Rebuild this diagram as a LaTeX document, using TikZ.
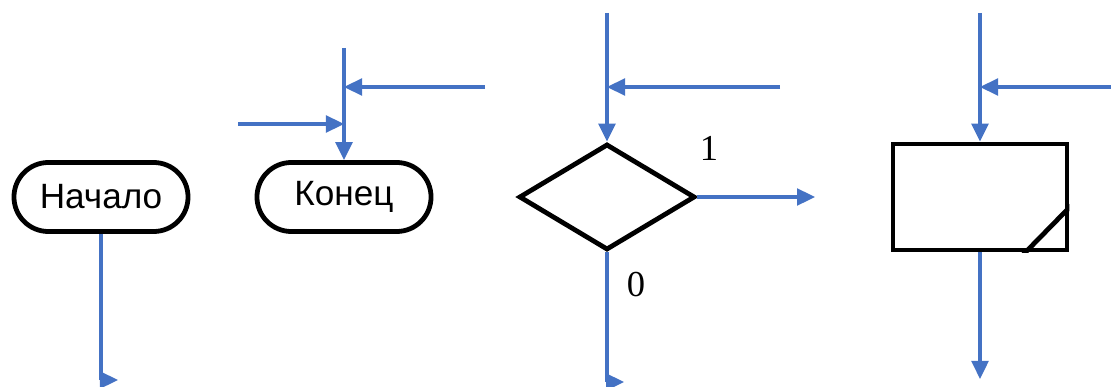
\documentclass[tikz,border=0pt]{standalone}
\usepackage{fontspec}
\setmainfont{Liberation Serif}
\newfontfamily\termfont{Liberation Sans}
\usetikzlibrary{arrows.meta,positioning,shapes.geometric,calc}
\definecolor{flowblue}{RGB}{68,114,196}

\begin{document}
\begin{tikzpicture}[x=0.025cm,y=-0.025cm,
  term/.style={rectangle,rounded corners=0.86cm,draw,line width=3.4pt,
    minimum width=4.35cm,minimum height=1.725cm,inner sep=0pt,font=\termfont\fontsize{25}{30}\selectfont},
  cond/.style={diamond,draw,line width=3.4pt,minimum width=4.4cm,minimum height=2.65cm,inner sep=0pt},
  blk/.style={rectangle,draw,line width=3.4pt,minimum width=4.35cm,minimum height=2.65cm,inner sep=0pt},
  flow/.style={flowblue,line width=2.2pt,-{Triangle[length=0.45cm,width=0.42cm]}},
  branchlbl/.style={font=\fontsize{26}{30}\selectfont}]
  \useasboundingbox (0,0) rectangle (1111,387);
  \clip (0,0) rectangle (1111,387);
  % terminals
  \node[term] (start) at (101,197) {Начало};
  \node[term] (stop) at (344,197) {Конец};
  % decision and process block
  \node[cond] (dec) at (607,197) {};
  \node[blk] (proc) at (980,197) {};
  \begin{scope}
    \clip (proc.south west) rectangle (proc.north east);
    \draw[line width=3.4pt] ($(proc.south east)+(2,-47)$) -- ($(proc.south east)+(-46,2)$);
  \end{scope}
  % free ends of connectors
  \coordinate (startout) at (118,380);
  \coordinate (stopin) at (344,48);
  \coordinate (stopA) at (485,87);
  \coordinate (stopB) at (238,124);
  \coordinate (decin) at (607,13);
  \coordinate (decA) at (780,87);
  \coordinate (decyes) at (815,197);
  \coordinate (decno) at (624,382);
  \coordinate (procin) at (980,13);
  \coordinate (procA) at (1111,87);
  \coordinate (procout) at (980,379);
  % connectors
  \draw[flow] (start.south) |- (startout);
  \draw[flow] (stopin) -- (stop.north);
  \draw[flow] (stopA) -- (stopA -| stop.north);
  \draw[flow] (stopB) -- (stopB -| stop.north);
  \draw[flow] (decin) -- (dec.north);
  \draw[flow] (decA) -- (decA -| dec.north);
  \draw[flow] (dec.east) -- (decyes);
  \draw[flow] (dec.south) |- (decno);
  \draw[flow] (procin) -- (proc.north);
  \draw[flow] (procA) -- (procA -| proc.north);
  \draw[flow] (proc.south) -- (procout);
  % branch labels
  \node[branchlbl] (one) at (709,148) {1};
  \node[branchlbl] (zero) at (636,285) {0};
\end{tikzpicture}
\end{document}
